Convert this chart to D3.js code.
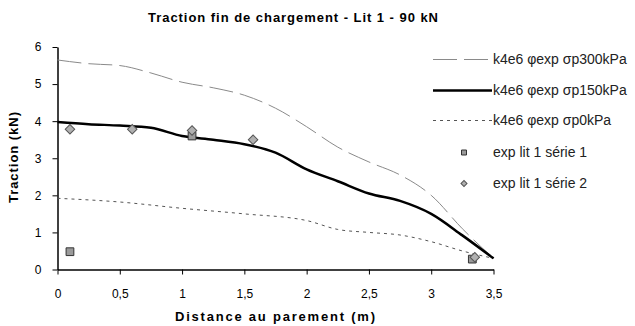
<!DOCTYPE html>
<html>
<head>
<meta charset="utf-8">
<script src="https://cdn.jsdelivr.net/npm/d3@7"></script>
<style>
  body { margin: 0; background: #fff; }
  text { font-family: Arial, "Liberation Sans", sans-serif; }
</style>
</head>
<body>
<svg id="chart" width="635" height="326"></svg>
<script>
// distance (m) / traction (kN)
const xs300 = [0, 0.25, 0.5, 0.75, 1, 1.25, 1.5, 1.75, 2, 2.25, 2.5, 2.75, 3, 3.25, 3.5]
const sp300 = [5.65, 5.55, 5.5, 5.3, 5.05, 4.9, 4.7, 4.35, 3.85, 3.3, 2.9, 2.55, 2.0, 1.1, 0.3]
const xs150 = [0, 0.25, 0.5, 0.75, 1, 1.25, 1.5, 1.75, 2, 2.25, 2.5, 2.75, 3, 3.25, 3.5]
const sp150 = [3.98, 3.92, 3.88, 3.82, 3.6, 3.5, 3.38, 3.15, 2.7, 2.38, 2.05, 1.85, 1.5, 0.92, 0.3]
const xs0 = [0, 0.5, 1, 1.5, 2, 2.25, 2.5, 2.75, 3, 3.25, 3.5]
const sp0 = [1.92, 1.82, 1.65, 1.5, 1.32, 1.08, 1.0, 0.93, 0.75, 0.5, 0.3]
const serie1X = [0.1, 1.08, 3.33]
const serie1Y = [0.48, 3.6, 0.28]
const serie2X = [0.1, 0.6, 1.08, 1.57, 3.35]
const serie2Y = [3.78, 3.78, 3.75, 3.5, 0.33]
const xTicks = [0, 0.5, 1, 1.5, 2, 2.5, 3, 3.5]
const yTicks = [0, 1, 2, 3, 4, 5, 6]
const legendLabels = ['k4e6 \u03c6exp \u03c3p300kPa', 'k4e6 \u03c6exp \u03c3p150kPa', 'k4e6 \u03c6exp \u03c3p0kPa', 'exp lit 1 s\u00e9rie 1', 'exp lit 1 s\u00e9rie 2']

const svg = d3.select('#chart')
const x = d3.scaleLinear().domain([0, 3.5]).range([57.5, 493.5])
const y = d3.scaleLinear().domain([0, 6]).range([269.5, 47])
const fmt = d => String(d).replace('.', ',')

svg.append('text')
    .attr('x', 148).attr('y', 22)
    .attr('textLength', 290).attr('lengthAdjust', 'spacing')
    .style('font-size', '13px').style('font-weight', 'bold')
    .text('Traction fin de chargement - Lit 1 - 90 kN')

const xAxis = svg.append('g')
    .attr('transform', `translate(0,${y(0)})`)
    .call(d3.axisBottom(x).tickValues(xTicks).tickFormat(fmt).tickSize(5).tickSizeOuter(0))
const yAxis = svg.append('g')
    .attr('transform', `translate(${x(0)},0)`)
    .call(d3.axisLeft(y).tickValues(yTicks).tickFormat(fmt).tickSize(5).tickSizeOuter(0))

for (const ax of [xAxis, yAxis]) {
    ax.select('.domain').attr('stroke', '#000').attr('stroke-width', 1.5)
    ax.selectAll('.tick line').attr('stroke', '#000')
    ax.selectAll('.tick text').style('font-size', '12px').attr('fill', '#000')
        .style('font-family', 'Arial, "Liberation Sans", sans-serif')
}
xAxis.selectAll('.tick text').attr('dy', '1.7em')
yAxis.selectAll('.tick text').attr('x', -16)

svg.append('text')
    .attr('x', 175).attr('y', 321)
    .attr('textLength', 200).attr('lengthAdjust', 'spacing')
    .style('font-size', '13px').style('font-weight', 'bold')
    .text('Distance au parement (m)')
svg.append('text')
    .attr('transform', 'translate(18,203) rotate(-90)')
    .attr('textLength', 91).attr('lengthAdjust', 'spacing')
    .style('font-size', '13px').style('font-weight', 'bold')
    .text('Traction (kN)')

const line = d3.line().x(d => x(d[0])).y(d => y(d[1])).curve(d3.curveMonotoneX)
const styles = [
    { color: '#8a8a8a', width: 1, dash: '24,7' },
    { color: '#000', width: 2.5, dash: null },
    { color: '#555', width: 1, dash: '3,4' }
]
const curves = [d3.zip(xs300, sp300), d3.zip(xs150, sp150), d3.zip(xs0, sp0)]

curves.forEach((pts, i) => {
    svg.append('path')
        .datum(pts)
        .attr('d', line)
        .attr('fill', 'none')
        .attr('stroke', styles[i].color)
        .attr('stroke-width', styles[i].width)
        .attr('stroke-dasharray', styles[i].dash)
})

const square = d3.symbol().type(d3.symbolSquare).size(60)
const diamond = d3.symbol().type(d3.symbolSquare).size(45)

svg.append('g').selectAll('path')
    .data(d3.zip(serie1X, serie1Y))
    .join('path')
    .attr('transform', d => `translate(${x(d[0])},${y(d[1])})`)
    .attr('d', square)
    .attr('fill', '#9a9a9a').attr('stroke', '#333')

svg.append('g').selectAll('path')
    .data(d3.zip(serie2X, serie2Y))
    .join('path')
    .attr('transform', d => `translate(${x(d[0])},${y(d[1])}) rotate(45)`)
    .attr('d', diamond)
    .attr('fill', '#b0b0b0').attr('stroke', '#555')

// legend
const legendY = [59.5, 90.5, 120.5, 152.5, 183.5]
const legend = svg.append('g')
legendLabels.forEach((label, i) => {
    const ly = legendY[i]
    if (i < 3) {
        legend.append('line')
            .attr('x1', 433).attr('x2', 492).attr('y1', ly).attr('y2', ly)
            .attr('stroke', styles[i].color)
            .attr('stroke-width', styles[i].width)
            .attr('stroke-dasharray', styles[i].dash)
    } else {
        legend.append('path')
            .attr('transform', `translate(464,${ly})` + (i === 4 ? ' rotate(45)' : ''))
            .attr('d', d3.symbol().type(d3.symbolSquare).size(i === 3 ? 25 : 18)())
            .attr('fill', i === 3 ? '#9a9a9a' : '#b0b0b0')
            .attr('stroke', i === 3 ? '#333' : '#555')
    }
    legend.append('text')
        .attr('x', 493).attr('y', ly).attr('dy', '0.35em')
        .style('font-size', '14px').attr('fill', '#222')
        .text(label)
})
</script>
</body>
</html>
